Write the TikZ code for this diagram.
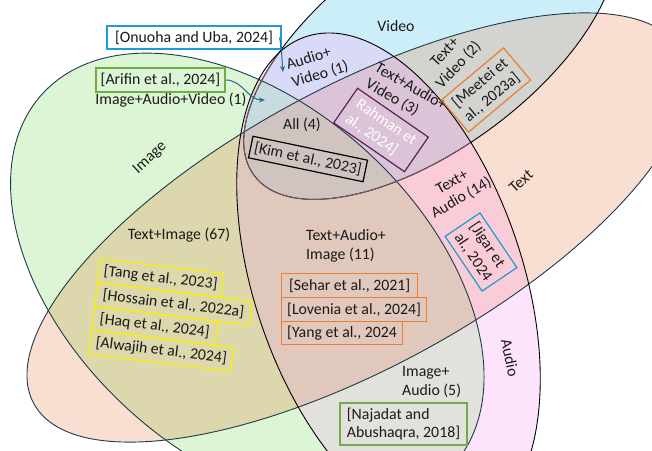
\documentclass[tikz,border=0pt]{standalone}
\usepackage{fontspec}
\setmainfont{Carlito}
\usetikzlibrary{arrows.meta}
\definecolor{cI}{HTML}{DCF5D5}
\definecolor{cV}{HTML}{CCEEF9}
\definecolor{cT}{HTML}{F9DFD1}
\definecolor{cA}{HTML}{FCE4FC}
\definecolor{cIT}{HTML}{DDD7AD}
\definecolor{cIA}{HTML}{E2E1DC}
\definecolor{cIV}{HTML}{C5E3DC}
\definecolor{cTA}{HTML}{F9CCD8}
\definecolor{cTV}{HTML}{D3D4CF}
\definecolor{cAV}{HTML}{D8DAF8}
\definecolor{cITA}{HTML}{E1C8BC}
\definecolor{cITV}{HTML}{CFCDB8}
\definecolor{cIAV}{HTML}{C8DCDF}
\definecolor{cTAV}{HTML}{DBC3D8}
\definecolor{cAll}{HTML}{D0C4C1}
\definecolor{lnC}{HTML}{1F3A4A}
\definecolor{lnVin}{HTML}{7A5A66}
\definecolor{bxBlue}{HTML}{1E9BD7}
\definecolor{bxGreen}{HTML}{70AD47}
\definecolor{bxOrange}{HTML}{ED7D31}
\definecolor{bxPurple}{HTML}{5C2257}
\definecolor{bxYellow}{HTML}{F8F000}
\definecolor{arrC}{HTML}{256C8C}
\definecolor{txt}{HTML}{1A1A1A}
\def\pT{(357.5,222.5) circle [x radius=368.5pt, y radius=139.6pt, rotate=28.55]}
\def\pI{(247.3,169.8) circle [x radius=277pt, y radius=175.7pt, rotate=-42.2]}
\def\pA{(388.5,168.6) circle [x radius=258.3pt, y radius=134.2pt, rotate=-71.27]}
\def\pV{(430.1,404.2) circle [x radius=218.6pt, y radius=102.6pt, rotate=36.3]}
\begin{document}
\begin{tikzpicture}[x=1pt,y=1pt,
  lbl/.style={font=\fontsize{15.8}{18.5}\selectfont, text=txt, inner sep=0pt},
  bx/.style={lbl, draw, line width=1.2pt, inner sep=0pt, align=left},
  arr/.style={draw=arrC, line width=1pt, -{Stealth[length=6pt,width=5pt]}},
  ln/.style={draw=lnC, line width=0.9pt}]
\useasboundingbox (0,0) rectangle (652,450);
\fill[white] (0,0) rectangle (652,450);
\begin{scope}
\clip (0,0) rectangle (652,450);
% single sets
\fill[cI] \pI; \fill[cV] \pV; \fill[cT] \pT; \fill[cA] \pA;
% pairs
\begin{scope}\clip \pI; \fill[cIT] \pT; \end{scope}
\begin{scope}\clip \pI; \fill[cIA] \pA; \end{scope}
\begin{scope}\clip \pI; \fill[cIV] \pV; \end{scope}
\begin{scope}\clip \pT; \fill[cTA] \pA; \end{scope}
\begin{scope}\clip \pT; \fill[cTV] \pV; \end{scope}
\begin{scope}\clip \pA; \fill[cAV] \pV; \end{scope}
% triples
\begin{scope}\clip \pI; \clip \pT; \fill[cITA] \pA; \end{scope}
\begin{scope}\clip \pI; \clip \pT; \fill[cITV] \pV; \end{scope}
\begin{scope}\clip \pI; \clip \pA; \fill[cIAV] \pV; \end{scope}
\begin{scope}\clip \pT; \clip \pA; \fill[cTAV] \pV; \end{scope}
% all four
\begin{scope}\clip \pI; \clip \pT; \clip \pA; \fill[cAll] \pV; \end{scope}
% outlines
\draw[ln] \pT;
\draw[ln] \pI;
\draw[line width=0.9pt, black] \pV;
\begin{scope}\clip \pA; \draw[line width=0.9pt, lnVin] \pV; \end{scope}
\draw[line width=0.9pt, black] \pA;
\end{scope}

% labels
\node[lbl] (lVideo) at (396,424) {Video};
\node[lbl, rotate=17, align=left] (lAV) at (317.5,384) {Audio+\\Video (1)};
\node[lbl, rotate=47, align=center] (lTV) at (452,391) {Text+\\Video (2)};
\node[lbl, rotate=-30, align=left] (lTAV) at (406,355) {Text+Audio+\\Video (3)};
\node[lbl] (lAll) at (302,325) {All (4)};
\node[lbl, rotate=30, align=center] (lTA) at (457,259.5) {Text+\\Audio (14)};
\node[lbl, rotate=42] (lText) at (521,269) {Text};
\node[lbl, rotate=43] (lImage) at (150,292) {Image};
\node[lbl] (lTI) at (179,215) {Text+Image (67)};
\node[lbl, align=left, anchor=west] (lTAI) at (306,204) {Text+Audio+\\Image (11)};
\node[lbl, align=left, anchor=west] (lIA) at (402,68) {Image+\\Audio (5)};
\node[lbl, rotate=-78] (lAudio) at (510,92) {Audio};
\node[lbl] (lIAV) at (171,350) {Image+Audio+Video (1)};

% reference boxes
\node[bx, draw=bxBlue, fill=white, minimum width=174pt, minimum height=23pt] (onuoha) at (194,412.5) {[Onuoha and Uba, 2024]};
\node[bx, draw=bxGreen, minimum width=129pt, minimum height=24pt] (arifin) at (160.5,370) {[Arifin et al., 2024]};
\node[bx, draw=bxOrange, rotate=40, minimum width=81pt, minimum height=42pt] (meetei) at (486,360) {[Meetei et\\al., 2023a]};
\node[bx, draw=bxPurple, text=white, rotate=-34.6, minimum width=86pt, minimum height=42pt] (rahman) at (381,320) {Rahman et\\al., 2024]};
\node[bx, draw=black, rotate=-11.8, minimum width=117pt, minimum height=22pt] (kim) at (308,291) {[Kim et al., 2023]};
\node[bx, draw=bxBlue, rotate=-56, minimum width=66pt, minimum height=42pt] (jigar) at (481,198) {[Jigar et\\al., 2024};
\begin{scope}[shift={(100,192)}, rotate=-7, transform shape]
\node[bx, draw=bxYellow, anchor=north west, minimum width=124pt, minimum height=24pt] (tang) at (0,0) {[Tang et al., 2023]};
\node[bx, draw=bxYellow, anchor=north west, minimum width=156pt, minimum height=24pt] (hossain) at (0,-24) {[Hossain et al., 2022a]};
\node[bx, draw=bxYellow, anchor=north west, minimum width=124pt, minimum height=24pt] (haq) at (0,-48) {[Haq et al., 2024]};
\node[bx, draw=bxYellow, anchor=north west, minimum width=143pt, minimum height=24pt] (alwajih) at (0,-72) {[Alwajih et al., 2024]};
\end{scope}
\node[bx, draw=bxOrange, anchor=north west, minimum width=136pt, minimum height=24pt] (sehar) at (281,177) {[Sehar et al., 2021]};
\node[bx, draw=bxOrange, anchor=north west, minimum width=145pt, minimum height=24pt] (lovenia) at (281,153) {[Lovenia et al., 2024]};
\node[bx, draw=bxOrange, anchor=north west, minimum width=121pt, minimum height=23pt] (yang) at (281,129) {[Yang et al., 2024};
\node[bx, draw=bxGreen, minimum width=127pt, minimum height=42pt] (najadat) at (403.5,26) {[Najadat and\\Abushaqra, 2018]};

% connectors
\coordinate (avpt) at (283,378);
\coordinate (iavpt) at (265,350);
\draw[arr] ([xshift=-2pt]onuoha.east) to[out=-80,in=95] (avpt);
\draw[arr] (arifin.east) to[out=0,in=180] (iavpt);
\end{tikzpicture}
\end{document}
